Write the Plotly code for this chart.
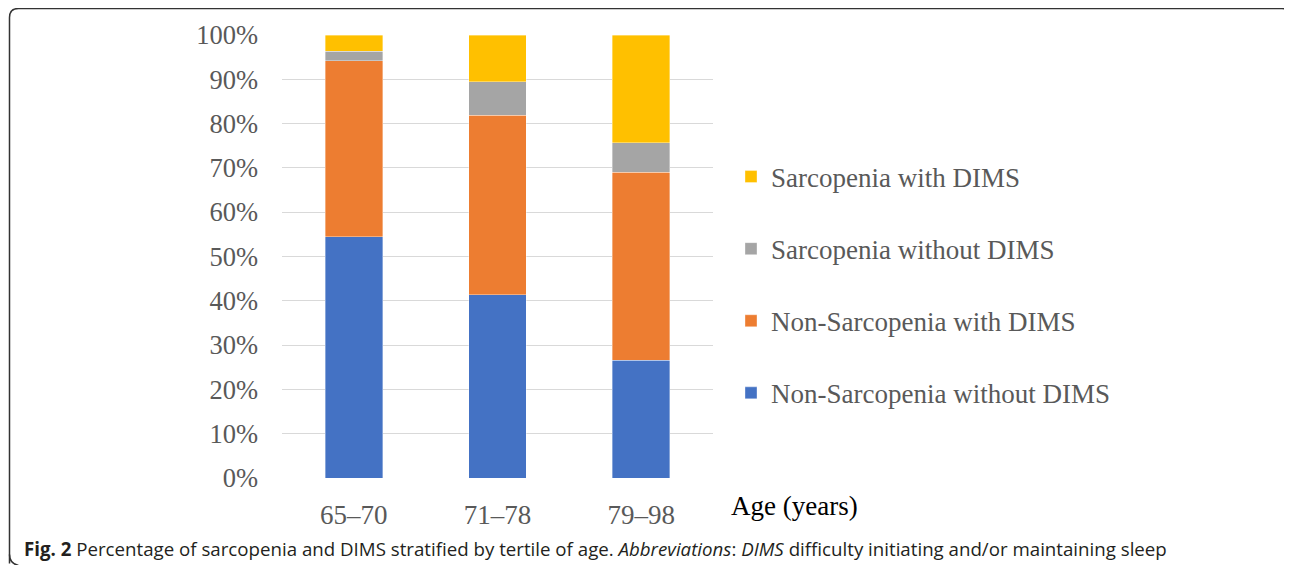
import plotly.graph_objects as go

categories = ["65–70", "71–78", "79–98"]
series_names = [
    "Non-Sarcopenia without DIMS",
    "Non-Sarcopenia with DIMS",
    "Sarcopenia without DIMS",
    "Sarcopenia with DIMS",
]
non_sarc_without = [54.5, 41.4, 26.6]
non_sarc_with = [39.7, 40.5, 42.4]
sarc_without = [2.1, 7.6, 6.7]
sarc_with = [3.7, 10.5, 24.3]
series_values = [non_sarc_without, non_sarc_with, sarc_without, sarc_with]
colors = ["#4472C4", "#ED7D31", "#A5A5A5", "#FFC000"]
y_tickvals = [0, 10, 20, 30, 40, 50, 60, 70, 80, 90, 100]
y_ticktext = [f"{v}%" for v in y_tickvals]

# page has an 8px body margin; work in screen coordinates and subtract it
OFF = 8
W, H = 1292 - OFF, 565 - OFF
L, R, T, B = 282 - OFF, 713 - OFF, 35 - OFF, 478 - OFF


def px(x):
    return (x - OFF - L) / (R - L)


def py(y):
    return (B - (y - OFF)) / (B - T)


fig = go.Figure()
n = len(series_names)
for i, (name, vals, col) in enumerate(zip(series_names, series_values, colors)):
    fig.add_trace(go.Bar(
        x=categories, y=vals, name=name, legendgroup=f"g{i}", legendrank=n - i,
        marker=dict(color=col, line=dict(color="rgba(255,255,255,0.6)", width=0.6)),
    ))

serif = "Liberation Serif, Times New Roman, serif"

# rounded frame
r = 9
x0, y0, x1, y1 = 9.5, 8.5, 1291.0, 563.5
path = (
    f"M {px(x0)},{py(y1)} "
    f"L {px(x0)},{py(y0 + r)} "
    f"Q {px(x0)},{py(y0)} {px(x0 + r)},{py(y0)} "
    f"L {px(x1 - r)},{py(y0)} "
    f"Q {px(x1)},{py(y0)} {px(x1)},{py(y0 + r)} "
)
path_bl = (
    f"M {px(x0)},{py(y1 - r)} Q {px(x0)},{py(y1)} {px(x0 + r)},{py(y1 + 2)}"
)

fig.update_layout(
    width=W, height=H, autosize=False,
    margin=dict(l=L, r=W - R, t=T, b=H - B, pad=0),
    paper_bgcolor="white", plot_bgcolor="white",
    barmode="stack", bargap=0.6,
    font=dict(family=serif, size=27, color="#595959"),
    xaxis=dict(
        showgrid=False, zeroline=False, showline=False, ticks="",
        tickfont=dict(family=serif, size=27, color="#595959"),
        ticklabelstandoff=18,
    ),
    yaxis=dict(
        range=[0, 100], tickvals=y_tickvals, ticktext=y_ticktext,
        showgrid=True, gridcolor="#D9D9D9", gridwidth=1.3,
        zeroline=False, showline=False, ticks="",
        tickfont=dict(family=serif, size=26.5, color="#595959"),
        ticklabelstandoff=23,
    ),
    legend=dict(
        orientation="v", traceorder="grouped", tracegroupgap=34,
        x=px(731), xanchor="left", y=py(285), yanchor="middle",
        font=dict(family=serif, size=27, color="#595959"),
        bgcolor="rgba(0,0,0,0)",
    ),
    shapes=[
        dict(type="path", xref="paper", yref="paper", path=path,
             line=dict(color="#333333", width=1.5)),
        dict(type="path", xref="paper", yref="paper", path=path_bl,
             line=dict(color="#333333", width=1.5)),
    ],
    annotations=[
        dict(text="Age (years)", xref="paper", yref="paper",
             x=px(794), y=py(506), xanchor="center", yanchor="middle",
             showarrow=False, font=dict(family=serif, size=27, color="#000000")),
        dict(text="<b>Fig. 2</b> Percentage of sarcopenia and DIMS stratified by tertile of age. "
                  "<i>Abbreviations</i>: <i>DIMS</i> difficulty initiating and/or maintaining sleep",
             xref="paper", yref="paper", x=px(22), y=py(548),
             xanchor="left", yanchor="middle", showarrow=False,
             font=dict(family="Open Sans, Noto Sans, sans-serif", size=18.7, color="#231F20")),
    ],
)

fig.write_html("out.html")
